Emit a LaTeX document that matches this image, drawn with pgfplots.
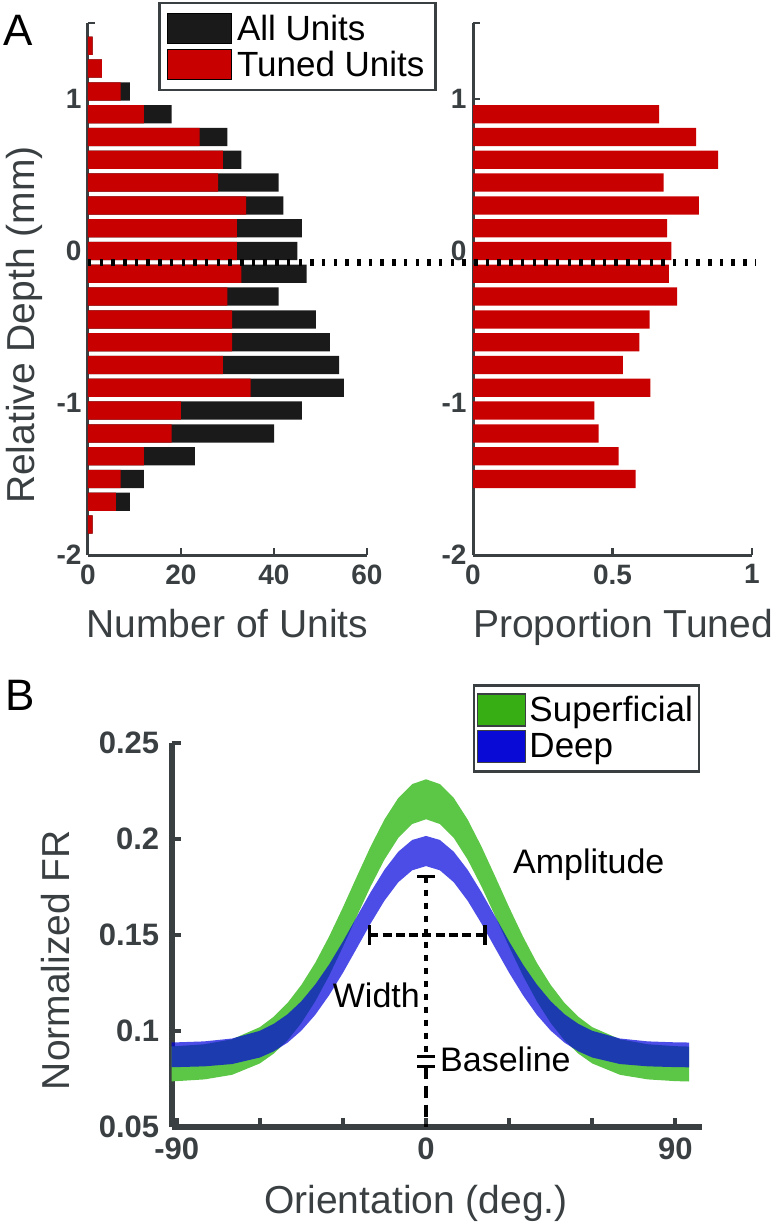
\documentclass[border=0pt]{standalone}
\usepackage{fontspec}
\setmainfont{Liberation Sans}
\usepackage{pgfplots}
\usepackage{pgfplotstable}
\pgfplotsset{compat=1.18}

\definecolor{axgray}{RGB}{58,63,66}
\definecolor{barred}{RGB}{200,0,0}
\definecolor{barblack}{RGB}{26,26,26}
\definecolor{leggreen}{RGB}{55,175,20}
\definecolor{legblue}{RGB}{10,10,215}
\definecolor{bandgreen}{RGB}{92,198,70}
\definecolor{bandblue}{RGB}{0,0,220}
\newcommand{\fs}[1]{\fontsize{#1}{#1}\selectfont}

\pgfplotstableread{
depth all tuned
1.35 1 1
1.2 3 3
1.05 9 7
0.9 18 12
0.75 30 24
0.6 33 29
0.45 41 28
0.3 42 34
0.15 46 32
0 45 32
-0.15 47 33
-0.3 41 30
-0.45 49 31
-0.6 52 31
-0.75 54 29
-0.9 55 35
-1.05 46 20
-1.2 40 18
-1.35 23 12
-1.5 12 7
-1.65 9 6
-1.8 1 1
}\unitsdata

\pgfplotstableread{
depth prop
0.9 0.667
0.75 0.800
0.6 0.879
0.45 0.683
0.3 0.810
0.15 0.696
0 0.711
-0.15 0.702
-0.3 0.732
-0.45 0.633
-0.6 0.596
-0.75 0.537
-0.9 0.636
-1.05 0.435
-1.2 0.450
-1.35 0.522
-1.5 0.583
}\propdata

\pgfplotsset{
  panelA/.style={
    scale only axis, width=279pt, height=532pt,
    ymin=-2, ymax=1.5, xmin=0,
    axis x line*=bottom, axis y line*=left,
    axis line style={axgray, line width=3pt},
    tick style={axgray, line width=2.5pt},
    tick align=inside, major tick length=7pt,
    ytick={-2,-1,0,1,1.5}, yticklabels={-2,-1,0,1,{}},
    tick label style={font=\fs{28}\bfseries, text=axgray},
    xticklabel style={yshift=-6pt},
    yticklabel style={xshift=-3pt},
    label style={font=\fs{39}, text=axgray},
  },
}

\begin{document}
\begin{tikzpicture}
\useasboundingbox (0pt,0pt) rectangle (784pt,-1224pt);
\node[anchor=base west, font=\fs{44}, inner sep=0pt] at (3pt,-45pt) {A};
\node[anchor=base west, font=\fs{44}, inner sep=0pt] at (5pt,-710pt) {B};

% ---------- Panel A left ----------
\begin{axis}[panelA, at={(88pt,-555pt)}, anchor=south west,
  xmax=60, xtick={0,20,40,60}, xticklabels={0,20,40,60},
  xlabel={Number of Units},
  xlabel style={at={(axis description cs:0.5,0)}, anchor=base, yshift=-82pt},
  ylabel={Relative Depth (mm)},
  ylabel style={at={(axis description cs:-0.190,0.432)}, anchor=base},
  legend style={at={(axis description cs:0.251,1.0395)}, anchor=north west,
    draw=axgray, line width=2.5pt, font=\fs{35}, text=black,
    inner xsep=8pt, inner ysep=9pt, row sep=3pt, column sep=2pt,
    nodes={inner sep=3pt}},
  legend cell align=left,
]
\addplot[xbar, bar width=0.12, bar shift=0pt, fill=barblack, draw=none,
  legend image code/.code={\draw[fill=barblack, draw=black, line width=0.8pt] (0pt,-15pt) rectangle (64pt,15pt);}]
  table[x=all, y=depth] {\unitsdata};
\addlegendentry{All Units}
\addplot[xbar, bar width=0.12, bar shift=0pt, fill=barred, draw=none,
  legend image code/.code={\draw[fill=barred, draw=black, line width=0.8pt] (0pt,-15pt) rectangle (64pt,15pt);}]
  table[x=tuned, y=depth] {\unitsdata};
\addlegendentry{Tuned Units}
\end{axis}

% ---------- Panel A right ----------
\begin{axis}[panelA, at={(473pt,-555pt)}, anchor=south west,
  xmax=1, xtick={0,0.5,1}, xticklabels={0,0.5,1},
  xlabel={Proportion Tuned},
  xlabel style={at={(axis description cs:0.538,0)}, anchor=base, yshift=-82pt},
  clip=false,
]
\addplot[xbar, bar width=0.12, bar shift=0pt, fill=barred, draw=none]
  table[x=prop, y=depth] {\propdata};
\addplot[black, line width=7pt, dash pattern=on 3.5pt off 8.2pt]
  coordinates {(-1.380,-0.075) (1.011,-0.075)};
\end{axis}

% ---------- Panel B ----------
\begin{axis}[at={(171.7pt,-1127pt)}, anchor=south west,
  scale only axis, width=530pt, height=384pt,
  xmin=-91.8, xmax=99.5, ymin=0.05, ymax=0.25,
  axis x line*=bottom, axis y line*=left,
  axis line style={axgray, line width=6pt},
  tick style={axgray, line width=4pt},
  tick align=inside, major tick length=9pt,
  xtick={-90,-60,-30,0,30,60,90}, xticklabels={-90,,,0,,,90},
  ytick={0.05,0.1,0.15,0.2,0.25}, yticklabels={0.05,0.1,0.15,0.2,0.25},
  tick label style={font=\fs{31}\bfseries, text=axgray},
  xticklabel style={yshift=-7pt},
  yticklabel style={xshift=-9pt},
  label style={font=\fs{39}, text=axgray},
  xlabel={Orientation (deg.)},
  xlabel style={at={(axis description cs:0.461,0)}, anchor=base, yshift=-86pt},
  ylabel={Normalized FR},
  ylabel style={at={(axis description cs:-0.192,0.435)}, anchor=base},
  legend style={at={(axis description cs:0.568,1.1536)}, anchor=north west,
    draw=axgray, line width=2.5pt, font=\fs{35}, text=black,
    inner xsep=3pt, inner ysep=8pt, row sep=3pt,
    nodes={inner sep=3pt}},
  legend cell align=left,
]
% Superficial band: upper edge then lower edge (reversed)
\addplot[fill=bandgreen, draw=none, forget plot] coordinates {
(-91.8,0.0920) (-90,0.0921) (-80,0.0931) (-70,0.0957) (-60,0.1020) (-55,0.1074)
(-50,0.1146) (-45,0.1240) (-40,0.1355) (-35,0.1492) (-30,0.1644) (-25,0.1804)
(-20,0.1961) (-15,0.2102) (-10,0.2214) (-5,0.2286) (0,0.2311) (5,0.2286)
(10,0.2214) (15,0.2102) (20,0.1961) (25,0.1804) (30,0.1644) (35,0.1492)
(40,0.1355) (45,0.1240) (50,0.1146) (55,0.1074) (60,0.1020) (70,0.0957)
(80,0.0931) (90,0.0921) (95,0.0919)
(95,0.0737) (90,0.0739) (80,0.0748) (70,0.0772) (60,0.0831) (55,0.0882)
(50,0.0951) (45,0.1042) (40,0.1155) (35,0.1288) (30,0.1439) (25,0.1597)
(20,0.1753) (15,0.1893) (10,0.2006) (5,0.2078) (0,0.2103) (-5,0.2078)
(-10,0.2006) (-15,0.1893) (-20,0.1753) (-25,0.1597) (-30,0.1439) (-35,0.1288)
(-40,0.1155) (-45,0.1042) (-50,0.0951) (-55,0.0882) (-60,0.0831) (-70,0.0772)
(-80,0.0748) (-90,0.0739) (-91.8,0.0738)} -- cycle;
% Deep band
\addplot[fill=bandblue, fill opacity=0.7, draw=none, forget plot] coordinates {
(-91.8,0.0941) (-90,0.0941) (-80,0.0946) (-70,0.0961) (-60,0.1001) (-55,0.1037)
(-50,0.1087) (-45,0.1155) (-40,0.1242) (-35,0.1346) (-30,0.1466) (-25,0.1595)
(-20,0.1723) (-15,0.1840) (-10,0.1934) (-5,0.1995) (0,0.2016) (5,0.1995)
(10,0.1934) (15,0.1840) (20,0.1723) (25,0.1595) (30,0.1466) (35,0.1346)
(40,0.1242) (45,0.1155) (50,0.1087) (55,0.1037) (60,0.1001) (70,0.0961)
(80,0.0946) (90,0.0941) (95,0.0940)
(95,0.0811) (90,0.0812) (80,0.0816) (70,0.0828) (60,0.0862) (55,0.0894)
(50,0.0939) (45,0.1002) (40,0.1084) (35,0.1186) (30,0.1303) (25,0.1431)
(20,0.1560) (15,0.1679) (10,0.1775) (5,0.1837) (0,0.1859) (-5,0.1837)
(-10,0.1775) (-15,0.1679) (-20,0.1560) (-25,0.1431) (-30,0.1303) (-35,0.1186)
(-40,0.1084) (-45,0.1002) (-50,0.0939) (-55,0.0894) (-60,0.0862) (-70,0.0828)
(-80,0.0816) (-90,0.0812) (-91.8,0.0812)} -- cycle;
% annotations
\addplot[black, line width=4.5pt, dash pattern=on 6.5pt off 6.5pt, forget plot] coordinates {(0,0.1804) (0,0.0868)};
\addplot[black, line width=4.5pt, dash pattern=on 12pt off 7pt, forget plot] coordinates {(0,0.0815) (0,0.05)};
\addplot[black, line width=3.3pt, forget plot] coordinates {(-3.2,0.1804) (3.2,0.1804)};
\addplot[black, line width=3pt, forget plot] coordinates {(-3.2,0.0868) (3.2,0.0868)};
\addplot[black, line width=3pt, forget plot] coordinates {(-3.2,0.0815) (3.2,0.0815)};
\addplot[black, line width=4.5pt, dash pattern=on 9pt off 4.3pt, forget plot] coordinates {(-20.5,0.15) (21.3,0.15)};
\addplot[black, line width=3.3pt, forget plot] coordinates {(-20.5,0.1450) (-20.5,0.1550)};
\addplot[black, line width=3.3pt, forget plot] coordinates {(21.3,0.1450) (21.3,0.1550)};
\node[anchor=base west, font=\fs{34}, inner sep=0pt] at (axis cs:31.4,0.1818) {Amplitude};
\node[anchor=base west, font=\fs{34}, inner sep=0pt] at (axis cs:-33.7,0.1120) {Width};
\node[anchor=base west, font=\fs{34}, inner sep=0pt] at (axis cs:5.05,0.0788) {Baseline};
\addlegendimage{legend image code/.code={\draw[fill=leggreen, draw=axgray, line width=1.5pt] (0pt,-16pt) rectangle (48pt,16pt);}}
\addlegendentry{Superficial}
\addlegendimage{legend image code/.code={\draw[fill=legblue, draw=axgray, line width=1.5pt] (0pt,-16pt) rectangle (48pt,16pt);}}
\addlegendentry{Deep}
\end{axis}
\end{tikzpicture}
\end{document}
